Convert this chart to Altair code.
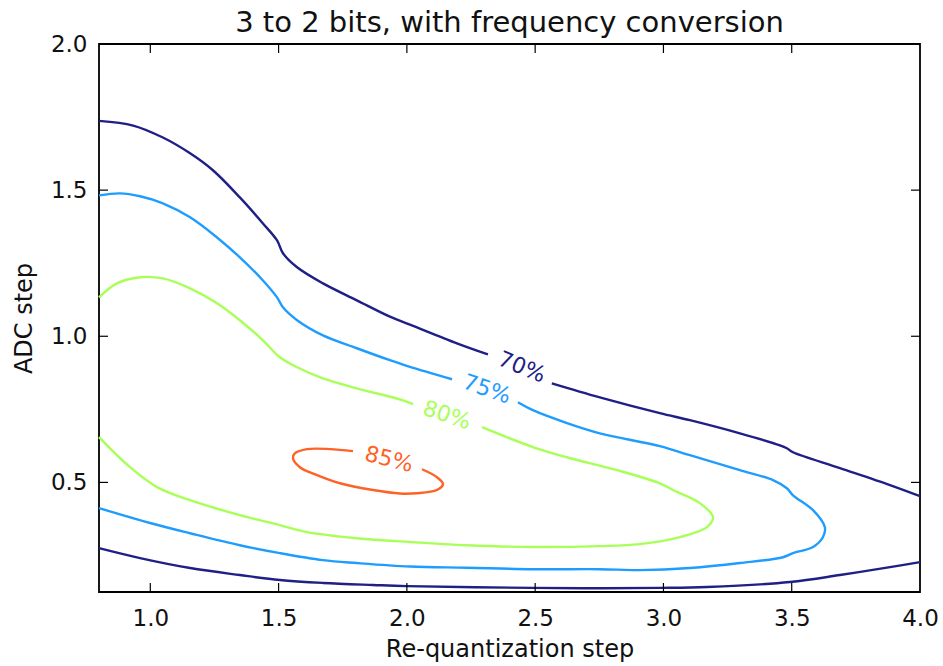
import altair as alt
import pandas as pd

FONT = "DejaVu Sans"

# ---- contour paths (Re-quantization step, ADC step) ----
# 70% contour: upper branch, left part (before inline label)
c70_a_x = [0.800, 0.933, 1.049, 1.155, 1.244, 1.349, 1.439, 1.494, 1.517, 1.572, 1.673, 1.805, 1.934, 2.012, 2.195, 2.316]
c70_a_y = [1.737, 1.721, 1.680, 1.626, 1.568, 1.475, 1.386, 1.328, 1.284, 1.236, 1.181, 1.123, 1.067, 1.040, 0.976, 0.938]
# 70% contour: upper branch, right part (after inline label)
c70_b_x = [2.565, 2.752, 2.986, 3.103, 3.298, 3.454, 3.481, 3.505, 3.688, 3.883, 4.000]
c70_b_y = [0.839, 0.791, 0.737, 0.713, 0.668, 0.627, 0.617, 0.603, 0.549, 0.491, 0.453]
# 70% contour: lower branch
c70_c_x = [0.800, 0.960, 1.155, 1.349, 1.505, 1.673, 1.868, 2.000, 2.491, 2.752, 2.986, 3.170, 3.493, 3.688, 3.883, 4.000]
c70_c_y = [0.275, 0.241, 0.207, 0.183, 0.166, 0.156, 0.149, 0.145, 0.139, 0.138, 0.139, 0.142, 0.159, 0.183, 0.210, 0.227]

# 75% contour: upper-left part (before label)
c75_a_x = [0.800, 0.882, 0.960, 1.049, 1.155, 1.260, 1.349, 1.439, 1.494, 1.517, 1.572, 1.673, 1.805, 1.934, 2.012, 2.176]
c75_a_y = [1.482, 1.489, 1.479, 1.455, 1.407, 1.338, 1.270, 1.191, 1.133, 1.099, 1.055, 1.003, 0.959, 0.918, 0.895, 0.853]
# 75% contour: after label, around the tip and back along the bottom
c75_b_x = [2.433, 2.491, 2.624, 2.752, 2.986, 3.103, 3.298, 3.427, 3.481, 3.505, 3.583, 3.629, 3.622, 3.583, 3.505, 3.466,
           3.298, 3.103, 2.908, 2.752, 2.491, 2.234, 2.012, 1.805, 1.673, 1.505, 1.349, 1.155, 0.999, 0.800]
c75_b_y = [0.774, 0.747, 0.703, 0.668, 0.624, 0.593, 0.542, 0.508, 0.480, 0.456, 0.405, 0.347, 0.313, 0.279, 0.258, 0.244,
           0.224, 0.207, 0.200, 0.203, 0.203, 0.208, 0.212, 0.224, 0.234, 0.258, 0.285, 0.326, 0.361, 0.412]

# 80% contour: upper-left part (before label)
c80_a_x = [0.800, 0.870, 0.960, 1.049, 1.155, 1.260, 1.349, 1.439, 1.505, 1.572, 1.673, 1.805, 1.985, 2.024]
c80_a_y = [1.133, 1.181, 1.202, 1.198, 1.164, 1.113, 1.055, 0.986, 0.928, 0.894, 0.856, 0.822, 0.781, 0.768]
# 80% contour: after label, around the tip and back
c80_b_x = [2.293, 2.491, 2.624, 2.819, 2.986, 3.037, 3.142, 3.193, 3.170, 3.064, 2.908, 2.752, 2.491, 2.234, 2.012,
           1.805, 1.611, 1.505, 1.349, 1.155, 1.026, 0.921, 0.800]
c80_b_y = [0.689, 0.621, 0.586, 0.542, 0.497, 0.474, 0.429, 0.381, 0.347, 0.313, 0.289, 0.282, 0.279, 0.285, 0.296,
           0.309, 0.330, 0.354, 0.388, 0.439, 0.484, 0.552, 0.655]

# 85% contour: closed loop, open where the label sits
c85_a_x = [2.059, 2.117, 2.141, 2.117, 2.039, 1.973, 1.868, 1.739, 1.650, 1.583, 1.556, 1.564, 1.611, 1.700, 1.790]
c85_a_y = [0.545, 0.518, 0.494, 0.474, 0.463, 0.462, 0.474, 0.497, 0.525, 0.552, 0.583, 0.600, 0.614, 0.614, 0.607]

levels = ["70%", "75%", "80%", "85%"]
level_colors = ["#1f1f86", "#1f9dff", "#a8ff57", "#ff6226"]

# inline contour labels
label_text = ["70%", "75%", "80%", "85%"]
label_x = [2.448, 2.312, 2.156, 1.930]
label_y = [0.894, 0.819, 0.730, 0.579]
label_angle = [22, 19, 18, 14]

x_ticks = [1.0, 1.5, 2.0, 2.5, 3.0, 3.5, 4.0]
y_ticks = [0.5, 1.0, 1.5, 2.0]
x_inner_ticks = [1.0, 1.5, 2.0, 2.5, 3.0, 3.5]
y_inner_ticks = [0.5, 1.0, 1.5]

# ---- build tables ----
segments = [
    ("70%", "70a", c70_a_x, c70_a_y),
    ("70%", "70b", c70_b_x, c70_b_y),
    ("70%", "70c", c70_c_x, c70_c_y),
    ("75%", "75a", c75_a_x, c75_a_y),
    ("75%", "75b", c75_b_x, c75_b_y),
    ("80%", "80a", c80_a_x, c80_a_y),
    ("80%", "80b", c80_b_x, c80_b_y),
    ("85%", "85a", c85_a_x, c85_a_y),
]
rows = []
for lvl, seg, xs, ys in segments:
    for i, (xv, yv) in enumerate(zip(xs, ys)):
        rows.append({"level": lvl, "seg": seg, "i": i, "x": xv, "y": yv})
lines_df = pd.DataFrame(rows)
labels_df = pd.DataFrame({"text": label_text, "x": label_x, "y": label_y,
                          "angle": label_angle, "level": levels})

W, H = 821, 548
TL = 9

xscale = alt.Scale(domain=[0.8, 4.0], nice=False, zero=False)
yscale = alt.Scale(domain=[0.125, 2.0], nice=False, zero=False)
cscale = alt.Scale(domain=levels, range=level_colors)

x_axis = alt.Axis(values=x_ticks, format=".1f", ticks=False, tickSize=0, domain=False, grid=False,
                  labelFont=FONT, labelFontSize=23, labelColor="#111", labelPadding=15,
                  titleFont=FONT, titleFontSize=24, titleFontWeight="normal", titleColor="#111",
                  titlePadding=7, labelFlush=False)
y_axis = alt.Axis(values=y_ticks, format=".1f", ticks=False, tickSize=0, domain=False, grid=False,
                  labelFont=FONT, labelFontSize=23, labelColor="#111", labelPadding=12,
                  titleFont=FONT, titleFontSize=24, titleFontWeight="normal", titleColor="#111",
                  titlePadding=14, labelFlush=False)


def X():
    return alt.X("x:Q", scale=xscale, title="Re-quantization step", axis=x_axis)


def Y():
    return alt.Y("y:Q", scale=yscale, title="ADC step", axis=y_axis)


lines = alt.Chart(lines_df).mark_line(strokeWidth=2.4, interpolate="catmull-rom").encode(
    x=X(), y=Y(),
    color=alt.Color("level:N", scale=cscale, legend=None),
    detail="seg:N",
    order=alt.Order("i:Q"),
)

texts = alt.Chart(labels_df).mark_text(font=FONT, fontSize=22, align="center", baseline="middle").encode(
    x=X(), y=Y(),
    text="text:N",
    angle=alt.Angle("angle:Q", scale=None),
    color=alt.Color("level:N", scale=cscale, legend=None),
)

xt_df = pd.DataFrame({"x": x_inner_ticks})
yt_df = pd.DataFrame({"y": y_inner_ticks})
tick_style = dict(color="#000", strokeWidth=1.2)
xt_bottom = alt.Chart(xt_df).mark_rule(**tick_style).encode(x=X(), y=alt.value(H), y2=alt.value(H - TL))
xt_top = alt.Chart(xt_df).mark_rule(**tick_style).encode(x=X(), y=alt.value(0), y2=alt.value(TL))
yt_left = alt.Chart(yt_df).mark_rule(**tick_style).encode(y=Y(), x=alt.value(0), x2=alt.value(TL))
yt_right = alt.Chart(yt_df).mark_rule(**tick_style).encode(y=Y(), x=alt.value(W - TL), x2=alt.value(W))

chart = alt.layer(lines, texts, xt_bottom, xt_top, yt_left, yt_right).properties(
    width=W, height=H,
    title=alt.TitleParams("3 to 2 bits, with frequency conversion", font=FONT, fontSize=29,
                          fontWeight="normal", color="#111", anchor="middle", frame="group",
                          offset=6, dy=11),
    autosize=alt.AutoSizeParams(type="none"),
    padding={"left": 99, "top": 44, "right": 23, "bottom": 74},
).configure(background="white").configure_view(stroke="#000", strokeWidth=1.8)

chart.save("out.html", embed_options={"renderer": "svg", "actions": False})
